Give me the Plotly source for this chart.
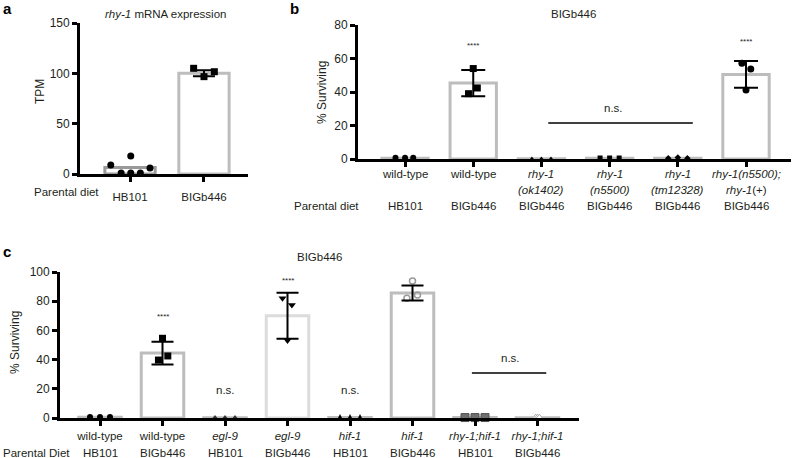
import plotly.graph_objects as go

W, H = 792, 458
FONT = "Liberation Sans, Arial, Helvetica, sans-serif"
TXT = "#231f20"

# ---------------- Panel a data ----------------
a_diet = ["HB101", "BIGb446"]
a_bar = [6.5, 100]
a_sd = [0, 3]
a_pts = [[9, 18, 1, 1, 1, 6], [105, 101.6, 96.7]]
a_jit = [[-0.26, 0.01, -0.12, 0.01, 0.14, 0.27], [-0.14, 0.14, 0.0]]

# ---------------- Panel b data ----------------
b_genotype_1 = ["wild-type", "wild-type", "<i>rhy-1</i>", "<i>rhy-1</i>",
                "<i>rhy-1</i>", "<i>rhy-1(n5500);</i>"]
b_genotype_2 = ["", "", "<i>(ok1402)</i>", "<i>(n5500)</i>", "<i>(tm12328)</i>",
                "<i>rhy-1</i>(+)"]
b_diet = ["HB101", "BIGb446", "BIGb446", "BIGb446", "BIGb446", "BIGb446"]
b_bar = [0.5, 45.3, 0.2, 0.5, 0.5, 50.5]
b_sd = [0, 7.8, 0, 0, 0, 8.0]
b_pts = [[0.8, 0.8, 0.8], [54, 39, 42.4], [0, 0, 0], [0.6, 0.6, 0.6],
         [0.4, 0.9, 0.4], [57.1, 53.7, 41.2]]
b_jit = [[-0.14, 0.0, 0.12], [0.0, -0.07, 0.06], [-0.14, 0.0, 0.14],
         [-0.14, 0.0, 0.14], [-0.14, 0.0, 0.14], [-0.06, 0.07, 0.0]]

# ---------------- Panel c data ----------------
c_genotype = ["wild-type", "wild-type", "<i>egl-9</i>", "<i>egl-9</i>",
              "<i>hif-1</i>", "<i>hif-1</i>", "<i>rhy-1;hif-1</i>", "<i>rhy-1;hif-1</i>"]
c_diet = ["HB101", "BIGb446", "HB101", "BIGb446", "HB101", "BIGb446", "HB101", "BIGb446"]
c_bar = [0.5, 44.5, 0.2, 70, 0.3, 85.6, 0.3, 0.2]
c_sd = [0, 7.8, 0, 15.8, 0, 5.2, 0, 0]
c_pts = [[0.6, 0.6, 0.6], [54.6, 39.7, 42.5], [0, 0, 0], [82, 77.4, 53],
         [0.3, 0.3, 0.3], [93.8, 82, 84.2], [0.3, 0.3, 0.3], [0.2, 0.2, 0.2]]
c_jit = [[-0.16, 0.0, 0.16], [0.0, -0.065, 0.085], [-0.16, 0.0, 0.16],
         [-0.08, 0.07, 0.0], [-0.16, 0.0, 0.16], [0.0, -0.09, 0.08],
         [-0.16, 0.0, 0.16], [-0.03, 0.0, 0.03]]

# ---------------- styles ----------------
a_style = [dict(symbol="circle", color="black", size=7, line=dict(width=0)),
           dict(symbol="square", color="black", size=7, line=dict(width=0))]
a_edge = ["#9a9a9a", "#bdbdbd"]
b_style = [dict(symbol="circle", color="black", size=6, line=dict(width=0)),
           dict(symbol="square", color="black", size=7, line=dict(width=0)),
           dict(symbol="triangle-up", color="black", size=5, line=dict(width=0)),
           dict(symbol="square", color="black", size=5, line=dict(width=0)),
           dict(symbol="diamond", color="black", size=5, line=dict(width=0)),
           dict(symbol="circle", color="black", size=7, line=dict(width=0))]
b_edge = ["#bdbdbd"] * 6
c_style = [dict(symbol="circle", color="black", size=6, line=dict(width=0)),
           dict(symbol="square", color="black", size=7, line=dict(width=0)),
           dict(symbol="triangle-up", color="#333333", size=6, line=dict(width=0)),
           dict(symbol="triangle-down", color="black", size=7, line=dict(width=0)),
           dict(symbol="diamond-tall", color="black", size=5, line=dict(width=0)),
           dict(symbol="circle-open", color="#9a9a9a", size=6, line=dict(width=1.5)),
           dict(symbol="square", color="#6e6e6e", size=8, line=dict(width=1, color="#555555")),
           dict(symbol="triangle-up", color="white", size=7, line=dict(width=1, color="#aaaaaa"))]
c_edge = ["#bdbdbd", "#bdbdbd", "#bdbdbd", "#dcdcdc", "#bdbdbd", "#bdbdbd", "#bdbdbd", "#bdbdbd"]

fig = go.Figure()


def add_panel(xa, ya, bars, sds, pts, jit, styles, edges, cap):
    n = len(bars)
    xs = list(range(n))
    fig.add_trace(go.Bar(x=xs, y=bars, width=0.68, xaxis=xa, yaxis=ya,
                         marker=dict(color="white", line=dict(color=edges, width=3)),
                         showlegend=False, hoverinfo="skip"))
    for i in range(n):
        st = dict(styles[i])
        sym = st.pop("symbol")
        fig.add_trace(go.Scatter(x=[i + j for j in jit[i]], y=pts[i], mode="markers",
                                 xaxis=xa, yaxis=ya, cliponaxis=False,
                                 marker=dict(symbol=sym, **st), showlegend=False))
    idx = [i for i in range(n) if sds[i] > 0]
    fig.add_trace(go.Scatter(x=idx, y=[bars[i] for i in idx], mode="markers",
                             xaxis=xa, yaxis=ya, cliponaxis=False,
                             marker=dict(size=1, opacity=0),
                             error_y=dict(type="data", array=[sds[i] for i in idx],
                                          width=cap, thickness=2, color="black"),
                             showlegend=False))


add_panel("x", "y", a_bar, a_sd, a_pts, a_jit, a_style, a_edge, 11)
add_panel("x2", "y2", b_bar, b_sd, b_pts, b_jit, b_style, b_edge, 12)
add_panel("x3", "y3", c_bar, c_sd, c_pts, c_jit, c_style, c_edge, 11)


def px_x(p):
    return p / W


def px_y(p):
    return 1 - p / H


axis_common = dict(showline=True, linecolor="black", linewidth=2.8, ticks="outside",
                   ticklen=5, tickwidth=2.5, tickcolor="black", showgrid=False,
                   zeroline=False, automargin=False,
                   tickfont=dict(family=FONT, size=11.5, color=TXT))

fig.update_layout(
    width=W, height=H, margin=dict(l=0, r=0, t=0, b=0),
    paper_bgcolor="white", plot_bgcolor="white",
    font=dict(family=FONT, color=TXT, size=11.5),
    showlegend=False,
    xaxis=dict(axis_common, domain=[px_x(80), px_x(248)], range=[-0.676, 1.595],
               anchor="y", tickvals=[0, 1], ticktext=a_diet, ticklabelstandoff=5),
    yaxis=dict(axis_common, domain=[px_y(174), px_y(23)], range=[0, 150], anchor="x",
               tickvals=[0, 50, 100, 150], tickfont=dict(family=FONT, size=12, color=TXT)),
    xaxis2=dict(axis_common, domain=[px_x(358), px_x(791)], range=[-0.69, 5.66],
                anchor="y2", tickvals=list(range(6)), ticktext=[""] * 6),
    yaxis2=dict(axis_common, domain=[px_y(159), px_y(25)], range=[0, 80], anchor="x2",
                tickvals=[0, 20, 40, 60, 80], tickfont=dict(family=FONT, size=12, color=TXT)),
    xaxis3=dict(axis_common, domain=[px_x(60), px_x(579)], range=[-0.64, 7.664],
                anchor="y3", tickvals=list(range(8)), ticktext=c_genotype),
    yaxis3=dict(axis_common, domain=[px_y(418), px_y(272)], range=[0, 100], anchor="x3",
                tickvals=[0, 20, 40, 60, 80, 100], tickfont=dict(family=FONT, size=12, color=TXT)),
)

ann = []


def paper_text(text, x, y, size=11.5, xanchor="center", angle=0, bold=False):
    t = f"<b>{text}</b>" if bold else text
    ann.append(dict(text=t, x=px_x(x), y=px_y(y), xref="paper", yref="paper",
                    xanchor=xanchor, yanchor="middle", showarrow=False, textangle=angle,
                    font=dict(family=FONT, size=size, color=TXT if not bold else "black")))


def data_text(text, xr, yr, x, y, size=11.5):
    ann.append(dict(text=text, x=x, y=y, xref=xr, yref=yr, xanchor="center",
                    yanchor="middle", showarrow=False,
                    font=dict(family=FONT, size=size, color=TXT)))


def row_text(labels, xr, ypx):
    for i, d in enumerate(labels):
        if d:
            ann.append(dict(text=d, x=i, y=px_y(ypx), xref=xr, yref="paper", showarrow=False,
                            xanchor="center", yanchor="middle",
                            font=dict(family=FONT, size=11.5, color=TXT)))


# panel letters
paper_text("a", 1, 8, size=15, xanchor="left", bold=True)
paper_text("b", 288, 8, size=15, xanchor="left", bold=True)
paper_text("c", 1, 252, size=15, xanchor="left", bold=True)

# titles
paper_text("<i>rhy-1</i> mRNA expression", 165, 14)
paper_text("BIGb446", 573, 14)
paper_text("BIGb446", 319, 257)

# y-axis titles
paper_text("TPM", 40, 92, size=12, angle=-90)
paper_text("% Surviving", 322, 93, size=12, angle=-90)
paper_text("% Surviving", 15, 343, size=12, angle=-90)

# Parental diet row labels
paper_text("Parental diet", 101, 192, xanchor="right")
paper_text("Parental diet", 292, 206, xanchor="left")
paper_text("Parental Diet", 1, 453, xanchor="left")

# category label rows
row_text(b_genotype_1, "x2", 174)
row_text(b_genotype_2, "x2", 190)
row_text(b_diet, "x2", 206)
row_text(c_diet, "x3", 453)

# significance marks
data_text("****", "x2", "y2", 1, 68, size=8)
data_text("****", "x2", "y2", 5, 70, size=8)
data_text("n.s.", "x2", "y2", 3.05, 30.4)
data_text("****", "x3", "y3", 1, 69.2, size=8)
data_text("****", "x3", "y3", 3, 94.5, size=8)
data_text("****", "x3", "y3", 5, 104, size=8)
data_text("n.s.", "x3", "y3", 2, 19.2)
data_text("n.s.", "x3", "y3", 4, 19.2)
data_text("n.s.", "x3", "y3", 6.56, 41)

fig.update_layout(annotations=ann)

fig.add_shape(type="line", xref="x2", yref="y2", x0=2.10, x1=4.22, y0=21.5, y1=21.5,
              line=dict(color="black", width=1.5))
fig.add_shape(type="line", xref="x3", yref="y3", x0=5.95, x1=7.14, y0=30.8, y1=30.8,
              line=dict(color="black", width=1.5))

fig.write_html("out.html", config={"displayModeBar": False},
               post_script="document.body.style.margin='0';document.body.style.overflow='hidden';")
